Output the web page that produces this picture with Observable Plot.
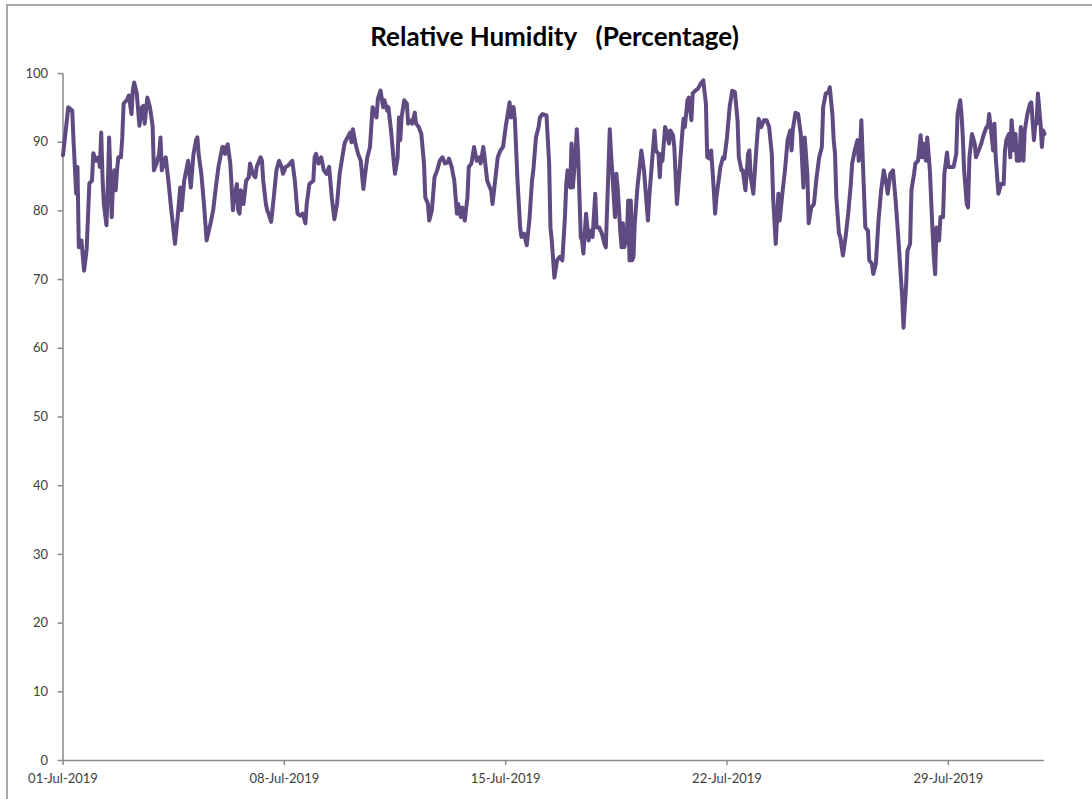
<!DOCTYPE html>
<html>
<head>
<meta charset="utf-8">
<script src="https://cdn.jsdelivr.net/npm/d3@7"></script>
<script src="https://cdn.jsdelivr.net/npm/@observablehq/plot@0.6"></script>
<style>
  html, body { margin: 0; padding: 0; background: #fff; overflow: hidden; }
  #frame { position: absolute; left: 6px; top: 4px; width: 1200px; height: 900px;
           border-left: 2px solid #a8a8a8; border-top: 2px solid #a8a8a8; }
  #title { position: absolute; left: 0; top: 21px; width: 1109px; text-align: center;
           font: bold 26px Lato, sans-serif; line-height: 30px; white-space: pre; color: #000; }
  #chart { position: absolute; left: 0; top: 60px; }
</style>
</head>
<body>
<div id="frame"></div>
<div id="title">Relative Humidity   (Percentage)</div>
<div id="chart"></div>
<script>
// Hours elapsed since 01-Jul-2019 00:00
const hours = [
0,4,7,8,9,10,11,12,14,16,18,20,22,23,25,27,28,29,30,31,33,34,35,37,38,39,40,41,42,44,45,46,49,50,52,53,54,56,58,60,61,62,64,66,68,69,71,73,74,75,77,78,80,82,85,87,89,90,92,95,97,99,101,102,103,105,107,109,112,114,116,118,121,122,123,125,127,129,130,132,133,134,135,137,139,141,142,144,146,147,150,151,152,154,155,156,158,160,162,164,166,167,169,171,174,176,178,180,182,184,185,187,190,191,192,194,196,198,200,202,204,206,208,210,213,214,216,218,219,220,222,224,226,228,230,231,233,235,236,238,239,241,243,244,246,247,249,251,252,254,255,256,257,259,261,262,263,265,267,268,270,272,274,275,277,278,280,282,284,286,288,290,292,293,295,297,299,300,302,303,305,307,308,310,312,314,316,317,319,320,322,324,325,326,328,330,332,334,336,338,339,340,342,343,345,347,348,350,352,354,356,357,359,361,362,364,367,369,370,371,373,375,377,379,381,382,383,385,386,387,389,390,391,393,394,395,397,399,400,402,404,405,407,409,411,412,414,415,416,417,419,420,421,423,424,425,426,428,429,430,431,432,433,434,436,438,439,441,443,444,445,447,449,450,452,453,454,455,457,458,460,461,463,464,466,468,470,471,472,474,475,477,478,480,482,484,486,488,489,491,492,494,495,496,499,501,502,504,506,508,510,512,513,515,516,517,518,520,521,522,524,526,528,530,532,534,536,538,539,541,543,544,546,548,550,552,553,554,556,558,560,562,563,565,566,568,570,572,574,576,577,579,581,582,584,585,586,587,589,590,592,594,596,598,599,601,603,604,605,606,607,609,611,612,614,615,617,619,621,623,625,626,628,630,632,634,636,637,638,640,641,643,644,646,647,649,651,652,653,655,656,658,660,661,662,663,665,666,668,669,671,672,674,676,678,679,681,682,683,684,686,687,688,690,692,693,695,697,699,701,702,703,705,706,707,708,710,712,714,715,716,718,719,720,722,723,724,726,727,728,729,730,732,734,735,737,738,739,740,742,743,744,745
];
// Relative humidity (%)
const humidity = [
88.1,95.1,94.6,90.2,86.4,82.5,86.4,74.7,75.7,71.3,74.5,84,84.4,88.4,87.3,87.8,86.4,91.4,84.9,81,77.9,83.4,90.7,79.1,84.4,85.9,83,85.9,87.8,87.8,90.7,95.6,96.3,96.8,94.1,97.5,98.7,97.1,92.4,95.1,95.3,92.7,96.5,95.1,92.4,85.9,86.9,88.3,90.7,85.9,87.3,87.8,84.4,80.5,75.2,79.1,83.4,80.1,84.4,87.3,83.4,88.2,90.3,90.7,88.2,85.4,81,75.7,78.2,80.1,83.4,86.4,89.3,89.3,88.3,89.7,86.9,80.1,82,83.9,80.1,79.6,83,81,84.4,84.9,86.9,85.4,84.9,86.4,87.8,87.3,84.4,81,80.1,79.6,78.4,82,85.9,87.3,86.4,85.4,86.4,86.6,87.3,84.4,79.6,79.3,79.6,78.2,81,83.9,84.4,87.8,88.3,86.9,87.8,85.9,85.4,86.4,82,78.8,81,85.4,89,90,90.7,91.4,90,91.9,89.8,88.3,87.3,83.2,86.4,87.8,89.3,95.1,94.6,93.6,96.3,97.5,95.1,96.1,94.6,95.1,91.7,87.3,85.4,87.8,93.6,90.3,93.6,96.1,95.6,92.7,93.2,92.7,94.3,92.7,92.2,91.2,86.9,82,81,78.6,80.1,84.9,85.9,87.3,87.8,86.9,87.1,87.6,86.4,84.4,79.6,81,79.1,80.5,78.6,82,86.4,86.9,89.3,87.3,87.8,86.9,89.3,87.8,84.4,83.4,83,81,84.4,87.8,88.8,89.3,92.2,94.6,95.8,93.6,95.1,93.2,84.4,77.6,76.2,76.7,75,78.6,84.4,85.9,90.7,92.2,93.6,94.1,93.9,86.9,77.6,75.7,70.3,72.8,73.3,72.8,79.1,83.9,85.9,83.4,89.8,83.4,88.3,91.9,88.3,76.2,75.7,73.8,79.6,75.7,77.1,76.2,82.5,77.6,77.6,76.7,75.2,74.7,85.9,91.9,88.3,85.4,79.1,85.4,83.4,77.1,74.7,78.2,74.7,76.2,81.5,72.8,81.5,72.8,73.3,78.2,83.4,86.9,88.8,85.9,81,78.6,82,86.9,91.7,88.8,88.3,84.9,88.3,87.3,92.2,91.7,89.8,91.7,91,89.3,81,85.9,91.2,93.4,92.2,96.1,96.5,93.2,97.1,97.5,97.8,98.5,99,95.6,87.8,87.6,88.8,83,79.6,82,86.4,87.8,87.6,90.7,95.1,97.5,97.3,93.2,87.8,85.9,85.9,84.4,83,88.3,88.8,84.9,82.5,88.3,93.4,92.2,93.2,93.2,92.2,88.3,82,75.2,82.5,78.6,82.5,85.9,90.3,91.7,88.8,91.9,94.3,94.1,91.2,83.4,90.7,85.4,78.2,80.5,81,84.9,87.8,89.3,95.1,97.1,97.3,98,94.1,90.3,88.3,82,76.7,76.2,73.5,76.2,79.6,83.9,86.9,88.8,90.3,87.3,88.8,93.2,87.8,77.6,77.1,72.8,72.3,70.8,72.3,78.6,83,85.9,83.9,82.5,85.4,85.9,81.5,76.2,70.3,67.4,63,69.4,74.2,75.2,83,85.4,86.9,87.3,91,87.8,89.8,87.3,90.7,85.9,77.1,73.3,70.8,77.6,75.7,79.1,79.1,85.4,88.5,86.4,86.4,86.4,88.3,94.1,96.1,94.1,90.7,85.9,81,80.5,87.8,91.2,89.8,87.8,88.8,89.8,91.2,92.2,92.2,94.1,90.7,88.8,92.7,87.8,82.5,83.9,83.9,88.8,90.3,91.2,87.8,93.2,88.8,91.2,87.3,87.3,92.2,90.7,87.3,91.7,94.1,95.6,95.8,90.3,92.7,92.7,97.1,92.7,89.3,91.7,91.2
];
const xTickDays = [1, 8, 15, 22, 29];
const xTickLabels = ["01-Jul-2019", "08-Jul-2019", "15-Jul-2019", "22-Jul-2019", "29-Jul-2019"];
const yTicks = [0, 10, 20, 30, 40, 50, 60, 70, 80, 90, 100];

const start = Date.UTC(2019, 6, 1);
const data = hours.map((h, i) => ({ time: new Date(start + h * 3600e3), rh: humidity[i] }));
const xTicks = xTickDays.map(d => new Date(Date.UTC(2019, 6, d)));
const xDomain = [new Date(start), new Date(start + hours[hours.length - 1] * 3600e3)];

const axisColor = "#8a8a8a";
const textColor = "#404040";

const chart = Plot.plot({
  width: 1092,
  height: 739,
  marginLeft: 62.5,
  marginRight: 48,
  marginTop: 13,
  marginBottom: 39,
  style: { fontFamily: "Lato, sans-serif", fontSize: "13px", background: "transparent", overflow: "visible" },
  x: { type: "utc", domain: xDomain },
  y: { domain: [0, 100] },
  marks: [
    Plot.axisY(yTicks, { tickSize: 5, tickPadding: 10, stroke: axisColor, fill: textColor, label: null, strokeWidth: 1.5 }),
    Plot.axisX(xTicks, { tickSize: 5, tickPadding: 8, stroke: axisColor, fill: textColor, label: null, strokeWidth: 1.5,
      tickFormat: (d) => xTickLabels[xTicks.findIndex(t => +t === +d)] }),
    Plot.ruleX([xDomain[0]], { stroke: axisColor, strokeWidth: 1.5 }),
    Plot.ruleY([0], { stroke: axisColor, strokeWidth: 1.5 }),
    Plot.line(data, { x: "time", y: "rh", stroke: "#5f4a82", strokeWidth: 4, strokeLinejoin: "round", strokeLinecap: "round" })
  ]
});
document.getElementById("chart").appendChild(chart);
</script>
</body>
</html>
